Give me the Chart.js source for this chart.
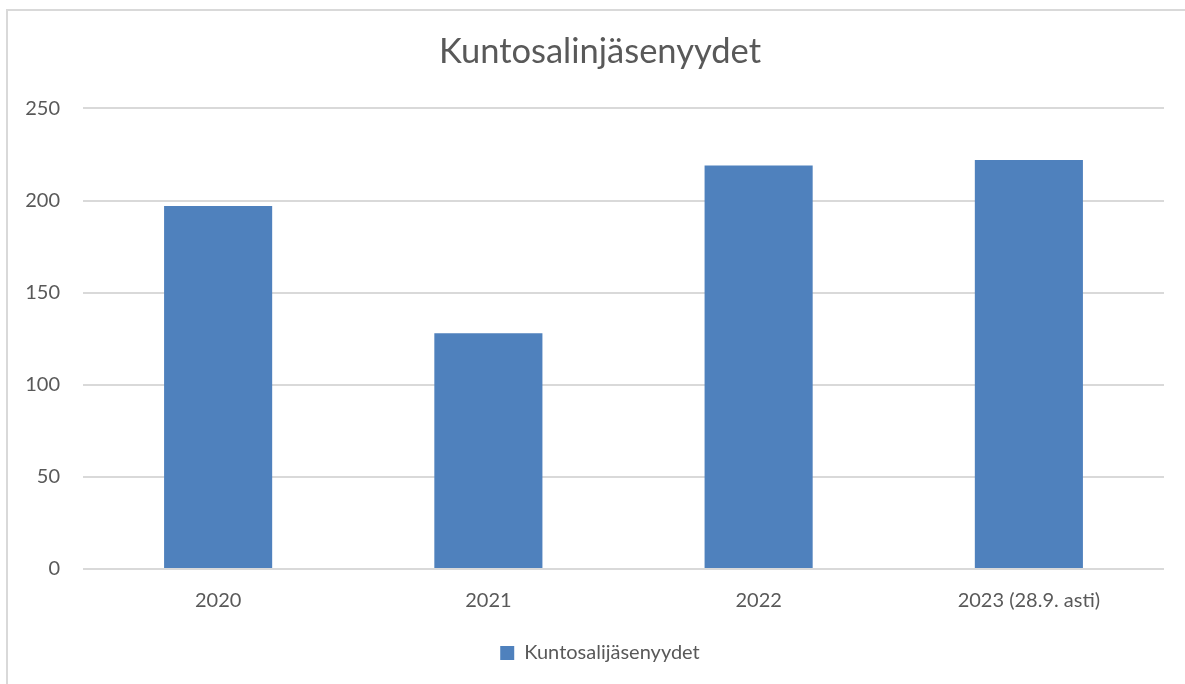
<!DOCTYPE html>
<html>
<head>
<meta charset="utf-8">
<script src="https://cdn.jsdelivr.net/npm/chart.js@4"></script>
<style>
  html, body { margin: 0; padding: 0; background: #fff; overflow: hidden; }
  #wrap {
    position: absolute; left: 6px; top: 9px;
    width: 1188px; height: 690px;
    border: 2px solid #d9d9d9; box-sizing: border-box; background: #fff;
  }
  canvas { display: block; }
</style>
</head>
<body>
<div id="wrap"><canvas id="chart" width="1184" height="686"></canvas></div>
<script>
const categories = ['2020', '2021', '2022', '2023 (28.9. asti)'];
const memberships = [197, 128, 219, 222];
const seriesLabel = 'Kuntosalijäsenyydet';
const chartTitle = 'Kuntosalinjäsenyydet';

const textColor = '#595959';
const barColor = '#4f81bd';
const fontFamily = 'Lato, "Open Sans", sans-serif';

new Chart(document.getElementById('chart'), {
  type: 'bar',
  data: {
    labels: categories,
    datasets: [
      {
        label: seriesLabel,
        data: memberships,
        backgroundColor: barColor,
        borderWidth: 0,
        barPercentage: 0.4,
        categoryPercentage: 1,
      },
    ],
  },
  options: {
    responsive: false,
    animation: false,
    layout: { padding: { left: 0, right: 0, top: 0, bottom: 24 } },
    plugins: {
      title: {
        display: true,
        text: chartTitle,
        color: textColor,
        font: { family: fontFamily, size: 34.5, weight: 'normal' },
        padding: { top: 20, bottom: 36 },
      },
      legend: {
        position: 'bottom',
        labels: {
          color: textColor,
          font: { family: fontFamily, size: 20 },
          boxWidth: 14,
          boxHeight: 14,
          padding: 18,
        },
      },
      tooltip: { enabled: false },
    },
    scales: {
      x: {
        grid: { display: false },
        border: { display: false },
        ticks: { color: textColor, font: { family: fontFamily, size: 20 }, padding: 12 },
      },
      y: {
        min: 0,
        max: 250,
        afterFit: (scale) => { scale.width = 75; },
        grid: { color: '#d9d9d9', lineWidth: 2, drawTicks: false },
        border: { display: false },
        ticks: { stepSize: 50, color: textColor, font: { family: fontFamily, size: 20 }, padding: 23 },
      },
      // empty right-hand spacer so the plot ends where the reference does
      yRight: {
        position: 'right',
        min: 0,
        max: 250,
        afterFit: (scale) => { scale.width = 28; },
        grid: { display: false },
        border: { display: false },
        ticks: { display: false },
      },
    },
  },
});
</script>
</body>
</html>
